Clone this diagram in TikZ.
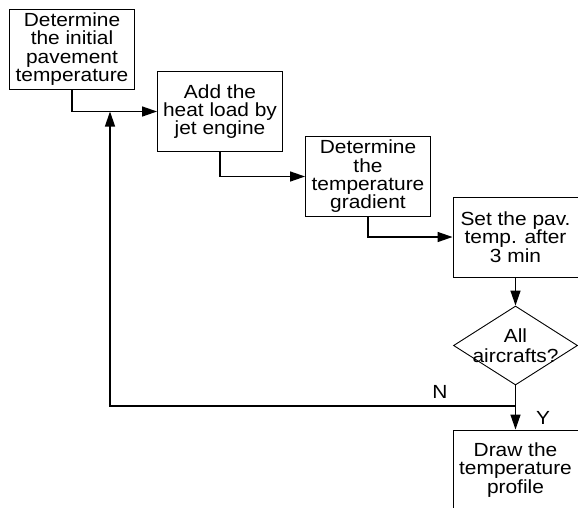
\documentclass[tikz,border=0pt]{standalone}
\usepackage{fontspec}
\setmainfont[FakeStretch=1.1]{Liberation Sans}
\usetikzlibrary{arrows.meta,shapes.geometric}
\begin{document}
\begin{tikzpicture}[x=1pt,y=1pt,
  procbox/.style={draw, line width=0.9pt, minimum width=125pt, minimum height=80pt, inner sep=0pt, align=center, font=\fontsize{19}{18.3}\selectfont},
  decbox/.style={draw, diamond, aspect=1.57, line width=0.9pt, minimum width=124pt, minimum height=79pt, inner xsep=-10pt, inner ysep=0pt, align=center, font=\fontsize{19}{20}\selectfont},
  flow/.style={line width=1.3pt, -{Triangle[length=15pt,width=10pt]}},
  lbl/.style={font=\fontsize{19}{18.3}\selectfont}]
\clip (0,0) rectangle (578,-507);
\node[procbox] (init) at (72,-49) {Determine\\the initial\\pavement\\temperature};
\node[procbox] (heat) at (220,-111.5) {Add the\\heat load by\\jet engine};
\node[procbox] (grad) at (368,-176.5) {Determine\\the\\temperature\\gradient};
\node[procbox] (pav) at (515.5,-237) {Set the pav.\\temp. after\\3 min};
\node[decbox] (dec) at (515.5,-345.5) {All\\aircrafts?};
\node[procbox] (prof) at (515.5,-470) {Draw the\\temperature\\profile};
\node[lbl] (no) at (440,-392) {N};
\node[lbl] (yes) at (543,-418) {Y};
\coordinate (join) at (515.5,-406);
\coordinate (turn) at (110,-406);
\draw[flow] (init.south) |- (heat.west);
\draw[flow] (heat.south) |- (grad.west);
\draw[flow] (grad.south) |- (pav.west);
\draw[flow] (pav.south) -- (dec.north);
\draw[flow] (dec.south) -- (prof.north);
\draw[flow] (join) -- (turn) -- (turn |- heat.west);
\end{tikzpicture}
\end{document}
